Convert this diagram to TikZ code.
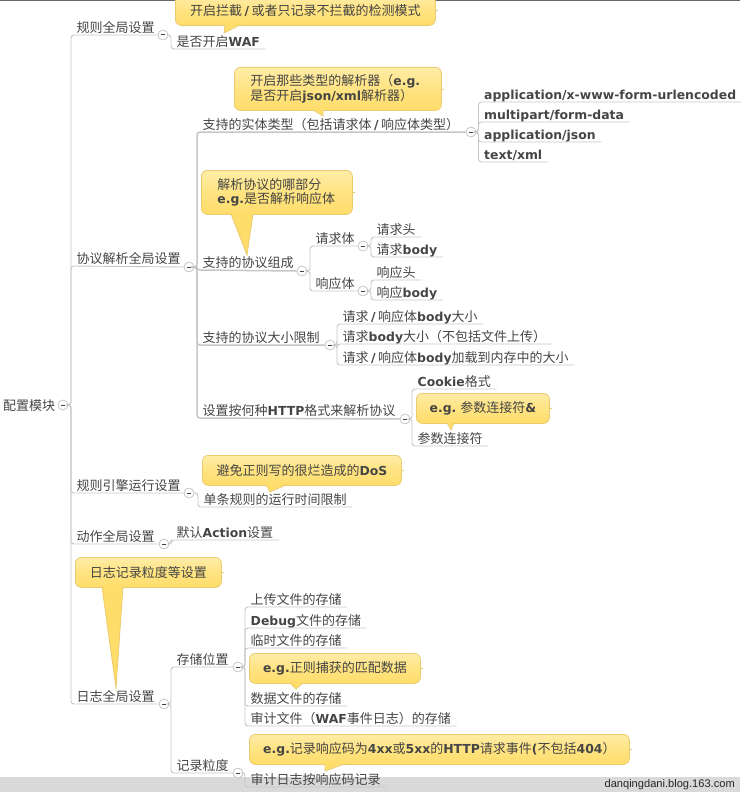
\documentclass[tikz,border=0pt]{standalone}
\usepackage{fontspec}
\setmainfont{Noto Sans CJK SC}
\newfontfamily\latfont[Scale=0.955]{DejaVu Sans}
\newfontfamily\markfont{Liberation Sans}
\newcommand\latb[1]{{\latfont\bfseries #1}}
\newcommand\slashb{\hspace{2.5pt}\latb{/}\hspace{2.5pt}}
\definecolor{inktext}{HTML}{454545}
\definecolor{branchgray}{HTML}{C6C6C6}
\definecolor{bandgray}{HTML}{D9D9D9}
\definecolor{calltop}{HTML}{FFEDA6}
\definecolor{callbot}{HTML}{FFDD6A}
\definecolor{callline}{HTML}{E9CB70}
\tikzset{%
  % Specifications for style of nodes:
    topic/.style={anchor=south west, inner xsep=5.5pt, inner ysep=1pt, text height=11pt, text depth=1pt,
      text=inktext, font=\fontsize{13}{15}\selectfont},
    collapse/.style={circle, draw=branchgray, fill=white, minimum size=10pt, inner sep=0pt, line width=.8pt,
      path picture={\draw[black!75,line width=1pt] ([xshift=-2.4pt]path picture bounding box.center) -- ([xshift=2.4pt]path picture bounding box.center);}},
    branch/.style={draw=branchgray, line width=.9pt, rounded corners=3pt},
    mainbranch/.style={draw=branchgray, line width=1.5pt, rounded corners=3pt},
    callout/.style={anchor=north west, draw=callline, line width=.8pt, rounded corners=6pt, inner ysep=0pt, inner xsep=0pt,
      top color=calltop, bottom color=callbot, middle color=callbot!60!calltop, text=inktext, font=\fontsize{13}{14.5}\selectfont},
}

\begin{document}
\begin{tikzpicture}[x=1pt,y=-1pt]
    \useasboundingbox (0,0) rectangle (740,792);
    \fill[bandgray] (0,777) rectangle (740,792);
    \draw[black!60,line width=1pt] (0,.5) -- (740,.5);

    % root and the first level
    \node (root) [topic, anchor=west, inner xsep=0pt, inner ysep=0pt] at (3,405) {配置模块};
    \node (rule) [topic] at (71,35) {规则全局设置};
    \node (proto) [topic] at (71,266) {协议解析全局设置};
    \node (engine) [topic] at (71,493) {规则引擎运行设置};
    \node (action) [topic] at (71,544) {动作全局设置};
    \node (log) [topic] at (71,704) {日志全局设置};

    \node (wafon) [topic] at (171,49) {是否开启\latb{WAF}};

    % protocol parsing
    \node (entity) [topic] at (197,132) {支持的实体类型（包括请求体\slashb 响应体类型）};
    \node (parts) [topic] at (197,270) {支持的协议组成};
    \node (limit) [topic] at (197,345) {支持的协议大小限制};
    \node (format) [topic] at (197,418) {设置按何种\latb{HTTP}格式来解析协议};

    \node (urlenc) [topic] at (478.5,102) {\latb{application/x-www-form-urlencoded}};
    \node (multi) [topic] at (478.5,122) {\latb{multipart/form-data}};
    \node (json) [topic] at (478.5,142) {\latb{application/json}};
    \node (xml) [topic] at (478.5,162) {\latb{text/xml}};

    \node (reqbody) [topic] at (310,246) {请求体};
    \node (respbody) [topic] at (310,291) {响应体};
    \node (reqhead) [topic] at (371,237) {请求头};
    \node (reqb) [topic] at (371,257) {请求\latb{body}};
    \node (resphead) [topic] at (371,280) {响应头};
    \node (respb) [topic] at (371,300) {响应\latb{body}};

    \node (limita) [topic] at (337,324) {请求\slashb 响应体\latb{body}大小};
    \node (limitb) [topic] at (337,344) {请求\latb{body}大小（不包括文件上传）};
    \node (limitc) [topic] at (337,365) {请求\slashb 响应体\latb{body}加载到内存中的大小};

    \node (cookie) [topic] at (412,389) {\latb{Cookie}格式};
    \node (joiner) [topic] at (412,446) {参数连接符};

    % engine, action
    \node (runtime) [topic] at (198,507) {单条规则的运行时间限制};
    \node (defact) [topic] at (171,540) {默认\latb{Action}设置};

    % log
    \node (store) [topic] at (171,667) {存储位置};
    \node (grain) [topic] at (171,773) {记录粒度};
    \node (upload) [topic] at (245,607) {上传文件的存储};
    \node (debug) [topic] at (245,628) {\latb{Debug}文件的存储};
    \node (temp) [topic] at (245,648) {临时文件的存储};
    \node (data) [topic] at (245,706) {数据文件的存储};
    \node (audit) [topic] at (245,726) {审计文件（\latb{WAF}事件日志）的存储};
    \node (auditlog) [topic] at (245,787) {审计日志按响应码记录};

    % collapse buttons
    \node (broot) [collapse] at (63,405) {};
    \node (brule) [collapse] at (163,35) {};
    \node (bproto) [collapse] at (189,267) {};
    \node (bengine) [collapse] at (189,493) {};
    \node (baction) [collapse] at (164,544) {};
    \node (blog) [collapse] at (164,704) {};
    \node (bentity) [collapse] at (471,132) {};
    \node (bparts) [collapse] at (302,271) {};
    \node (blimit) [collapse] at (330,345) {};
    \node (bformat) [collapse] at (405,419) {};
    \node (breqbody) [collapse] at (363,246) {};
    \node (brespbody) [collapse] at (363,291) {};
    \node (bstore) [collapse] at (238,667) {};
    \node (bgrain) [collapse] at (238,773) {};

    % connectors
    \foreach \kid/\btn in {rule/brule, proto/bproto, engine/bengine, action/baction, log/blog}
      \draw[branch] (broot.east) -| (\kid.south west) -- (\btn.west);
    \foreach \kid/\btn in {entity/bentity, parts/bparts, limit/blimit, format/bformat}
      \draw[mainbranch] (bproto.east) -| (\kid.south west) -- (\btn.west);
    \foreach \kid/\btn in {reqbody/breqbody, respbody/brespbody}
      \draw[branch] (bparts.east) -| (\kid.south west) -- (\btn.west);
    \foreach \kid/\btn in {store/bstore, grain/bgrain}
      \draw[branch] (blog.east) -| (\kid.south west) -- (\btn.west);
    \foreach \btn/\kid in {brule/wafon, bengine/runtime, baction/defact,
        bentity/urlenc, bentity/multi, bentity/json, bentity/xml,
        breqbody/reqhead, breqbody/reqb, brespbody/resphead, brespbody/respb,
        blimit/limita, blimit/limitb, blimit/limitc,
        bformat/cookie, bformat/joiner,
        bstore/upload, bstore/debug, bstore/temp, bstore/data, bstore/audit, bgrain/auditlog}
      \draw[branch] (\btn.east) -| (\kid.south west) -- (\kid.south east);

    % yellow notes
    \node (note1) [callout, minimum width=260pt, minimum height=30pt] at (175,-5) {开启拦截\slashb 或者只记录不拦截的检测模式};
    \node (note2) [callout, inner xsep=16pt, text width=175pt, minimum height=43pt, align=left] at (234,67)
      {开启那些类型的解析器（\latb{e.g.}\\是否开启\latb{json/xml}解析器）};
    \node (note3) [callout, inner xsep=16pt, text width=119pt, minimum height=44pt, align=left] at (201,170)
      {解析协议的哪部分\\\latb{e.g.}是否解析响应体};
    \node (note4) [callout, minimum width=133pt, minimum height=30pt] at (416,393) {\latb{e.g.} 参数连接符\latb{\&}};
    \node (note5) [callout, minimum width=199pt, minimum height=30pt] at (202,455) {避免正则写的很烂造成的\latb{DoS}};
    \node (note6) [callout, minimum width=146pt, minimum height=30pt] at (75,557) {日志记录粒度等设置};
    \node (note7) [callout, minimum width=171pt, minimum height=30pt] at (249,653) {\latb{e.g.}正则捕获的匹配数据};
    \node (note8) [callout, minimum width=380pt, minimum height=30pt] at (249,734)
      {\latb{e.g.}记录响应码为\latb{4xx}或\latb{5xx}的\latb{HTTP}请求事件\latb{(}不包括\latb{404}）};

    % note tails and the small stubs on their right side
    \foreach \xa/\ya/\xt/\yt/\xb in {225/25/224/33/240, 313/110/323/116/323, 231/214/247/255/253,
        447/423/451/430/454, 266/485/270/492/286, 102/587/116/688/123, 290/683/296/689/303, 325/764/325/771/345} {
      \fill[callbot] (\xa,\ya-1) -- (\xt,\yt) -- (\xb,\ya-1) -- cycle;
      \draw[callline,line width=.8pt] (\xa,\ya) -- (\xt,\yt) -- (\xb,\ya);
    }
    \foreach \n in {note1,note2,note3,note4,note5,note6,note7,note8}
      \draw[callline,line width=.8pt] (\n.east) -- ++(2,0);

    \node (mark) [anchor=east, inner sep=0pt, text=black!85, font=\markfont\fontsize{11.1}{13}\selectfont] at (735,785) {danqingdani.blog.163.com};
\end{tikzpicture}
\end{document}
